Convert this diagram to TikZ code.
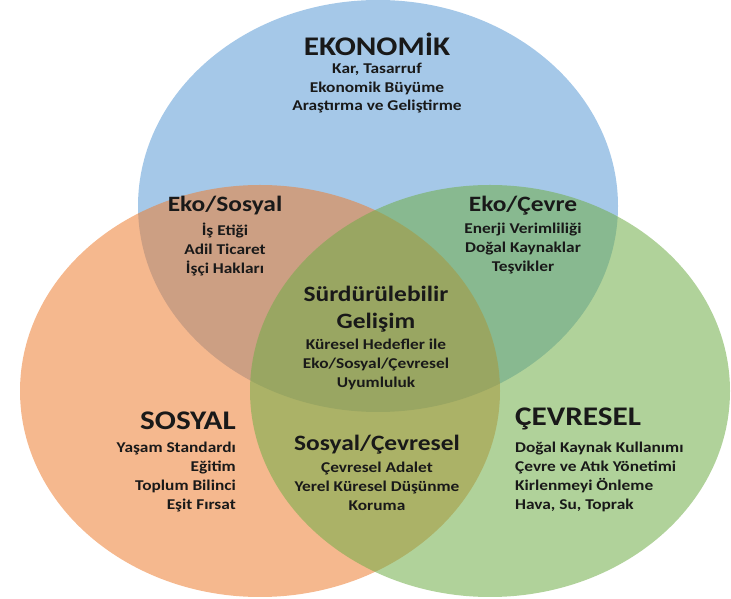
\documentclass[tikz,border=0pt]{standalone}
\usepackage{fontspec}
\setmainfont{Carlito}[FakeStretch=1.16]
\usepackage{xcolor}
\usetikzlibrary{positioning}
\definecolor{ekocol}{RGB}{91,155,213}
\definecolor{sosyalcol}{RGB}{237,125,49}
\definecolor{cevrecol}{RGB}{112,173,71}
\definecolor{textcol}{RGB}{25,25,25}
\tikzset{
  set/.style={fill opacity=0.55},
  bigtitle/.style={text=textcol,inner sep=0pt,font=\bfseries\fontsize{27}{30}\selectfont},
  midtitle/.style={text=textcol,inner sep=0pt,font=\bfseries\fontsize{22}{27}\selectfont},
  itemlist/.style={text=textcol,inner sep=0pt,font=\bfseries\fontsize{15}{19}\selectfont},
}
\begin{document}
\begin{tikzpicture}[node distance=7bp]
\useasboundingbox (0bp,0bp) rectangle (731bp,599bp);
%%
\fill [ekocol,set] (378bp,393bp) ellipse [x radius=240bp,y radius=206bp];
\fill [sosyalcol,set] (260bp,208bp) ellipse [x radius=240bp,y radius=206bp];
\fill [cevrecol,set] (490bp,208bp) ellipse [x radius=240bp,y radius=206bp];
%%
  \node (ekonomik) at (377.0bp,555.0bp) [bigtitle] {EKONOMİK};
  \node (ekonomikL) [itemlist,align=center,below=of ekonomik] {Kar, Tasarruf\\Ekonomik Büyüme\\Araştırma ve Geliştirme};
  \node (ekososyal) at (225.0bp,393.0bp) [midtitle] {Eko/Sosyal};
  \node (ekososyalL) [itemlist,align=center,below=of ekososyal] {İş Etiği\\Adil Ticaret\\İşçi Hakları};
  \node (ekocevre) at (523.0bp,393.0bp) [midtitle] {Eko/Çevre};
  \node (ekocevreL) [itemlist,align=center,below=of ekocevre] {Enerji Verimliliği\\Doğal Kaynaklar\\Teşvikler};
  \node (surdur) at (376.0bp,290.0bp) [midtitle,align=center] {Sürdürülebilir\\Gelişim};
  \node (surdurL) [itemlist,align=center,below=of surdur] {Küresel Hedefler ile\\Eko/Sosyal/Çevresel\\Uyumluluk};
  \node (sosyal) at (236.0bp,178.0bp) [bigtitle,anchor=east] {SOSYAL};
  \node (sosyalL) [itemlist,align=right,below=12bp of sosyal.south east,anchor=north east] {Yaşam Standardı\\Eğitim\\Toplum Bilinci\\Eşit Fırsat};
  \node (sosyalcevre) at (377.0bp,154.0bp) [midtitle] {Sosyal/Çevresel};
  \node (sosyalcevreL) [itemlist,align=center,below=of sosyalcevre] {Çevresel Adalet\\Yerel Küresel Düşünme\\Koruma};
  \node (cevresel) at (515.0bp,180.0bp) [bigtitle,anchor=west] {ÇEVRESEL};
  \node (cevreselL) [itemlist,align=left,below=12bp of cevresel.south west,anchor=north west] {Doğal Kaynak Kullanımı\\Çevre ve Atık Yönetimi\\Kirlenmeyi Önleme\\Hava, Su, Toprak};
%
\end{tikzpicture}
\end{document}
